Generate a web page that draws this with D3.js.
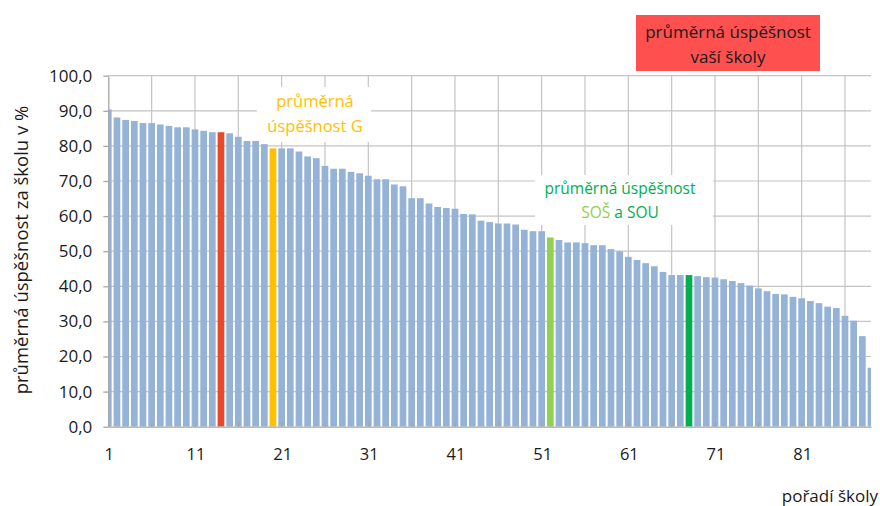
<!DOCTYPE html>
<html>

<head>
    <meta charset="UTF-8">
    <title>Průměrná úspěšnost škol</title>
    <script type="text/javascript" src="https://d3js.org/d3.v7.min.js"></script>
    <style>
        body { margin: 0; background: #fff; }
        svg text { font-family: "Open Sans", sans-serif; fill: #1a1a1a; }
    </style>
</head>

<body>
    <svg id="chart"></svg>

    <script type="text/javascript">
        // average success rate of each school, sorted by rank
        const values = [
            90.4, 88.1, 87.4, 87.1, 86.5, 86.5, 86.1, 85.7, 85.3, 85.3,
            84.7, 84.3, 83.9, 83.9, 83.6, 82.6, 81.4, 81.4, 80.5, 79.3,
            79.3, 79.3, 78.4, 77.0, 76.5, 74.3, 73.5, 73.5, 72.6, 72.2,
            71.5, 70.5, 70.5, 69.0, 68.5, 65.1, 65.1, 63.6, 62.6, 62.3,
            62.1, 60.6, 60.5, 58.7, 58.3, 57.9, 57.9, 57.6, 56.1, 55.7,
            55.7, 53.9, 53.2, 52.5, 52.5, 52.3, 51.7, 51.7, 50.6, 50.0,
            48.4, 47.5, 46.6, 45.7, 44.1, 43.2, 43.2, 43.2, 42.9, 42.6,
            42.5, 42.0, 41.5, 40.9, 40.2, 39.4, 38.6, 37.8, 37.7, 37.0,
            36.6, 35.8, 35.2, 34.2, 33.8, 31.6, 30.2, 25.8, 16.8
        ];
        const ranks = values.map((v, i) => i + 1);

        // highlighted ranks
        const schoolRank = 14;   // vaše škola
        const gymRank = 20;      // průměr G
        const sosRank = 52;      // průměr SOŠ
        const souRank = 68;      // průměr SOU

        const yTicks = [0, 10, 20, 30, 40, 50, 60, 70, 80, 90, 100];
        const xTickLabels = [1, 11, 21, 31, 41, 51, 61, 71, 81];
        const xGridRanks = d3.range(1, 90, 5);

        const width = 880,
            height = 506;

        const svg = d3.select('#chart')
            .attr('width', width)
            .attr('height', height);

        // scales
        const x = d3.scaleLinear().domain([1, 89]).range([108.3, 871]);
        const y = d3.scaleLinear().domain([0, 100]).range([426.7, 75.7]);
        const barW = 6.7;

        const barColor = d => {
            if (d.rank === schoolRank) return "#e8492a";
            if (d.rank === gymRank) return "#ffc000";
            if (d.rank === sosRank) return "#92d050";
            if (d.rank === souRank) return "#00b050";
            return "#95b3d7";
        };

        // clip area for half bars at the edges
        svg.append("clipPath")
            .attr("id", "plotclip")
            .append("rect")
            .attr("x", x(1))
            .attr("y", y(100) - 2)
            .attr("width", x(89) - x(1))
            .attr("height", y(0) - y(100) + 2);

        // gridlines
        svg.append("g")
            .selectAll("line")
            .data(yTicks.slice(1))
            .join("line")
            .attr("x1", x(1))
            .attr("x2", x(89))
            .attr("y1", d => y(d))
            .attr("y2", d => y(d))
            .attr("stroke", "#c4c4c4")
            .attr("stroke-width", 1.2);

        svg.append("g")
            .selectAll("line")
            .data(xGridRanks.slice(1))
            .join("line")
            .attr("x1", d => x(d))
            .attr("x2", d => x(d))
            .attr("y1", y(100))
            .attr("y2", y(0))
            .attr("stroke", "#c4c4c4")
            .attr("stroke-width", 1.2);

        // white text boxes for the annotations
        svg.append("rect")
            .attr("x", 257).attr("y", 87)
            .attr("width", 114).attr("height", 55)
            .attr("fill", "#fff");
        svg.append("rect")
            .attr("x", 535).attr("y", 175)
            .attr("width", 178).attr("height", 50)
            .attr("fill", "#fff");

        // bars
        const data = values.map((v, i) => ({ rank: ranks[i], value: v }));
        svg.append("g")
            .attr("clip-path", "url(#plotclip)")
            .selectAll("rect")
            .data(data)
            .join("rect")
            .attr("x", d => x(d.rank) - barW / 2)
            .attr("width", barW)
            .attr("y", d => y(d.value))
            .attr("height", d => y(0) - y(d.value))
            .attr("fill", barColor);

        // x axis
        const xAxis = svg.append("g")
            .attr("transform", "translate(0," + y(0) + ")")
            .call(d3.axisBottom(x)
                .tickValues(xGridRanks)
                .tickSizeInner(-5)
                .tickSizeOuter(0)
                .tickFormat(""));
        xAxis.select(".domain").attr("stroke", "#a6a6a6").attr("stroke-width", 1.3);
        xAxis.selectAll(".tick line").attr("stroke", "#a6a6a6").attr("stroke-width", 1.3);

        svg.append("g")
            .selectAll("text")
            .data(xTickLabels)
            .join("text")
            .attr("x", d => x(d) + 1)
            .attr("y", 460)
            .attr("text-anchor", "middle")
            .style("font-size", "16.5px")
            .text(d => d);

        // y axis
        const yAxis = svg.append("g")
            .attr("transform", "translate(" + x(1) + ",0)")
            .call(d3.axisLeft(y)
                .tickValues(yTicks)
                .tickSizeInner(5)
                .tickSizeOuter(0)
                .tickPadding(11)
                .tickFormat(d => d3.format(".1f")(d).replace(".", ",")));
        yAxis.select(".domain").attr("stroke", "#a6a6a6").attr("stroke-width", 1.3);
        yAxis.selectAll(".tick line").attr("stroke", "#a6a6a6").attr("stroke-width", 1.3);
        yAxis.selectAll(".tick text")
            .style("font-family", "'Open Sans', sans-serif")
            .style("font-size", "17px")
            .attr("fill", "#1a1a1a");

        // axis titles
        svg.append("text")
            .attr("transform", "translate(28,250) rotate(-90)")
            .attr("text-anchor", "middle")
            .style("font-size", "18.5px")
            .text("průměrná úspěšnost  za školu v %");

        svg.append("text")
            .attr("x", 878)
            .attr("y", 502)
            .attr("text-anchor", "end")
            .style("font-size", "17px")
            .text("pořadí  školy");

        // annotation: gymnázia
        const gText = svg.append("text")
            .attr("text-anchor", "middle")
            .style("font-size", "16.5px");
        gText.append("tspan").attr("x", 315).attr("y", 107)
            .style("fill", "#ffc000").text("průměrná");
        gText.append("tspan").attr("x", 315).attr("y", 132)
            .style("fill", "#ffc000").text("úspěšnost G");

        // annotation: SOŠ a SOU
        const sText = svg.append("text")
            .attr("text-anchor", "middle")
            .style("font-size", "15.5px");
        sText.append("tspan").attr("x", 620).attr("y", 194)
            .style("fill", "#00b050").text("průměrná úspěšnost");
        const s2 = svg.append("text")
            .attr("x", 620).attr("y", 218)
            .attr("text-anchor", "middle")
            .style("font-size", "15.5px");
        s2.append("tspan").style("fill", "#92d050").text("SOŠ");
        s2.append("tspan").style("fill", "#00b050").text(" a SOU");

        // legend box for your school
        svg.append("rect")
            .attr("x", 636).attr("y", 15)
            .attr("width", 184).attr("height", 56)
            .attr("fill", "#ff5050");
        const rText = svg.append("text")
            .attr("text-anchor", "middle")
            .style("font-size", "17px");
        rText.append("tspan").attr("x", 728).attr("y", 38)
            .style("fill", "#1a1a1a").text("průměrná úspěšnost");
        rText.append("tspan").attr("x", 728).attr("y", 63)
            .style("fill", "#1a1a1a").text("vaší školy");
    </script>
</body>

</html>
